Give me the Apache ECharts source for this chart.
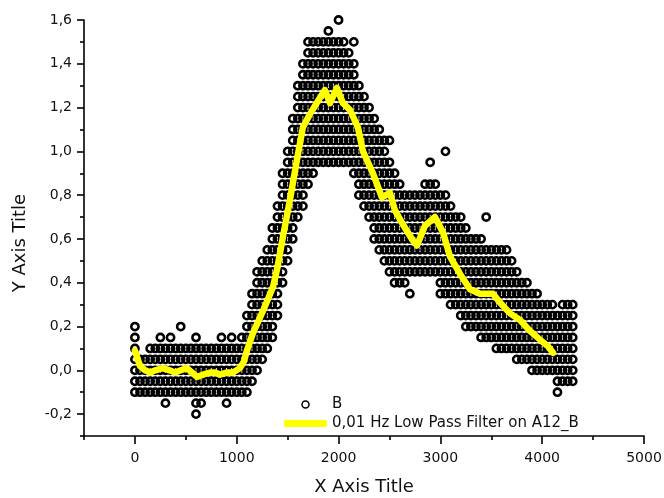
<!DOCTYPE html>
<html><head><meta charset="utf-8">
<script src="https://cdn.jsdelivr.net/npm/echarts@6/dist/echarts.min.js"></script>
<style>html,body{margin:0;padding:0;background:#fff}#c{width:664px;height:498px}</style>
</head><body><div id="c"></div><script>
// Axis tick values
const xMajorTicks = [0, 1000, 2000, 3000, 4000, 5000];
const xMinorTicks = [-500, 500, 1500, 2500, 3500, 4500];
const yMajorTicks = [-0.2, 0, 0.2, 0.4, 0.6, 0.8, 1.0, 1.2, 1.4, 1.6];
const yMinorTicks = [-0.3, -0.1, 0.1, 0.3, 0.5, 0.7, 0.9, 1.1, 1.3, 1.5];

// Series "B": x positions and the y values read at each position
const scatterX = [0,50,100,150,200,250,300,350,400,450,500,550,600,650,700,750,800,850,900,950,
  1000,1050,1100,1150,1200,1250,1300,1350,1400,1450,1500,1550,1600,1650,1700,1750,1800,1850,1900,1950,
  2000,2050,2100,2150,2200,2250,2300,2350,2400,2450,2500,2550,2600,2650,2700,2750,2800,2850,2900,2950,
  3000,3050,3100,3150,3200,3250,3300,3350,3400,3450,3500,3550,3600,3650,3700,3750,3800,3850,3900,3950,
  4000,4050,4100,4150,4200,4250,4300];
const scatterY = [
  [-0.1,-0.05,0,0.05,0.1,0.15,0.2],
  [-0.1,-0.05,0,0.05],
  [-0.1,-0.05,0,0.05],
  [-0.1,-0.05,0,0.05,0.1],
  [-0.1,-0.05,0,0.05,0.1],
  [-0.1,-0.05,0,0.05,0.1,0.15],
  [-0.15,-0.1,-0.05,0,0.05,0.1],
  [-0.1,-0.05,0,0.05,0.1,0.15],
  [-0.1,-0.05,0,0.05,0.1],
  [-0.1,-0.05,0,0.05,0.1,0.2],
  [-0.1,-0.05,0,0.05,0.1],
  [-0.1,-0.05,0,0.05,0.1],
  [-0.2,-0.15,-0.1,-0.05,0,0.05,0.1,0.15],
  [-0.15,-0.1,-0.05,0,0.05,0.1],
  [-0.1,-0.05,0,0.05,0.1],
  [-0.1,-0.05,0,0.05,0.1],
  [-0.1,-0.05,0,0.05,0.1],
  [-0.1,-0.05,0,0.05,0.1,0.15],
  [-0.15,-0.1,-0.05,0,0.05,0.1],
  [-0.1,-0.05,0,0.05,0.1,0.15],
  [-0.1,-0.05,0,0.05,0.1],
  [-0.1,-0.05,0,0.05,0.1,0.15],
  [-0.1,-0.05,0,0.05,0.1,0.15,0.2,0.25],
  [-0.05,0,0.05,0.1,0.15,0.2,0.25,0.3,0.35],
  [0,0.05,0.1,0.15,0.2,0.25,0.3,0.35,0.4,0.45],
  [0.05,0.1,0.15,0.2,0.25,0.3,0.35,0.4,0.45,0.5],
  [0.1,0.15,0.2,0.25,0.3,0.35,0.4,0.45,0.5,0.55],
  [0.15,0.2,0.25,0.3,0.35,0.4,0.45,0.5,0.55,0.6,0.65],
  [0.25,0.3,0.35,0.4,0.45,0.5,0.55,0.6,0.65,0.7,0.75],
  [0.4,0.45,0.5,0.55,0.6,0.65,0.7,0.75,0.8,0.85,0.9],
  [0.5,0.55,0.6,0.65,0.7,0.75,0.8,0.85,0.9,0.95,1.0],
  [0.6,0.65,0.7,0.75,0.8,0.85,0.9,0.95,1.0,1.05,1.1,1.15],
  [0.7,0.75,0.8,0.85,0.9,0.95,1.0,1.05,1.1,1.15,1.2,1.25,1.3],
  [0.75,0.8,0.85,0.9,0.95,1.0,1.05,1.1,1.15,1.2,1.25,1.3,1.35,1.4],
  [0.85,0.9,0.95,1.0,1.05,1.1,1.15,1.2,1.25,1.3,1.35,1.4,1.45,1.5],
  [0.9,0.95,1.0,1.05,1.1,1.15,1.2,1.25,1.3,1.35,1.4,1.45,1.5],
  [0.95,1.0,1.05,1.1,1.15,1.2,1.25,1.3,1.35,1.4,1.45,1.5],
  [0.95,1.0,1.05,1.1,1.15,1.2,1.25,1.3,1.35,1.4,1.45,1.5],
  [0.95,1.0,1.05,1.1,1.15,1.2,1.25,1.3,1.35,1.4,1.45,1.5,1.55],
  [0.95,1.0,1.05,1.1,1.15,1.2,1.25,1.3,1.35,1.4,1.45,1.5],
  [0.95,1.0,1.05,1.1,1.15,1.2,1.25,1.3,1.35,1.4,1.45,1.5,1.6],
  [0.95,1.0,1.05,1.1,1.15,1.2,1.25,1.3,1.35,1.4,1.45,1.5],
  [0.95,1.0,1.05,1.1,1.15,1.2,1.25,1.3,1.35,1.4,1.45],
  [0.9,0.95,1.0,1.05,1.1,1.15,1.2,1.25,1.3,1.35,1.4,1.5],
  [0.8,0.85,0.9,0.95,1.0,1.05,1.1,1.15,1.2,1.25,1.3],
  [0.75,0.8,0.85,0.9,0.95,1.0,1.05,1.1,1.15,1.2,1.25],
  [0.7,0.75,0.8,0.85,0.9,0.95,1.0,1.05,1.1,1.15,1.2],
  [0.6,0.65,0.7,0.75,0.8,0.85,0.9,0.95,1.0,1.05,1.1,1.15],
  [0.55,0.6,0.65,0.7,0.75,0.8,0.85,0.9,0.95,1.0,1.05,1.1],
  [0.5,0.55,0.6,0.65,0.7,0.75,0.8,0.85,0.9,0.95,1.0,1.05],
  [0.45,0.5,0.55,0.6,0.65,0.7,0.75,0.8,0.85,0.9,0.95,1.05],
  [0.4,0.45,0.5,0.55,0.6,0.65,0.7,0.75,0.8,0.85,0.9],
  [0.4,0.45,0.5,0.55,0.6,0.65,0.7,0.75,0.8,0.85],
  [0.4,0.45,0.5,0.55,0.6,0.65,0.7,0.75,0.8],
  [0.35,0.45,0.5,0.55,0.6,0.65,0.7,0.75,0.8],
  [0.45,0.5,0.55,0.6,0.65,0.7,0.75,0.8],
  [0.45,0.5,0.55,0.6,0.65,0.7,0.75,0.8],
  [0.45,0.5,0.55,0.6,0.65,0.7,0.75,0.8,0.85],
  [0.45,0.5,0.55,0.6,0.65,0.7,0.75,0.8,0.85,0.95],
  [0.45,0.5,0.55,0.6,0.65,0.7,0.75,0.8,0.85],
  [0.35,0.4,0.45,0.5,0.55,0.6,0.65,0.7,0.75,0.8],
  [0.35,0.4,0.45,0.5,0.55,0.6,0.65,0.7,0.75,0.8,1.0],
  [0.3,0.35,0.4,0.45,0.5,0.55,0.6,0.65,0.7,0.75],
  [0.3,0.35,0.4,0.45,0.5,0.55,0.6,0.65,0.7],
  [0.25,0.3,0.35,0.4,0.45,0.5,0.55,0.6,0.65,0.7],
  [0.2,0.25,0.3,0.35,0.4,0.45,0.5,0.55,0.6,0.65],
  [0.2,0.25,0.3,0.35,0.4,0.45,0.5,0.55,0.6],
  [0.2,0.25,0.3,0.35,0.4,0.45,0.5,0.55,0.6],
  [0.15,0.2,0.25,0.3,0.35,0.4,0.45,0.5,0.55,0.6],
  [0.15,0.2,0.25,0.3,0.35,0.4,0.45,0.5,0.55,0.7],
  [0.15,0.2,0.25,0.3,0.35,0.4,0.45,0.5,0.55],
  [0.1,0.15,0.2,0.25,0.3,0.35,0.4,0.45,0.5,0.55],
  [0.1,0.15,0.2,0.25,0.3,0.35,0.4,0.45,0.5,0.55],
  [0.1,0.15,0.2,0.25,0.3,0.35,0.4,0.45,0.5,0.55],
  [0.1,0.15,0.2,0.25,0.3,0.35,0.4,0.45,0.5],
  [0.05,0.1,0.15,0.2,0.25,0.3,0.35,0.4,0.45],
  [0.05,0.1,0.15,0.2,0.25,0.3,0.35,0.4],
  [0.05,0.1,0.15,0.2,0.25,0.3,0.35,0.4],
  [0,0.05,0.1,0.15,0.2,0.25,0.3,0.35],
  [0,0.05,0.1,0.15,0.2,0.25,0.3,0.35],
  [0,0.05,0.1,0.15,0.2,0.25,0.3],
  [0,0.05,0.1,0.15,0.2,0.25,0.3],
  [0,0.05,0.1,0.15,0.2,0.25,0.3],
  [-0.1,-0.05,0,0.05,0.1,0.15,0.2,0.25],
  [-0.05,0,0.05,0.1,0.15,0.2,0.25,0.3],
  [-0.05,0,0.05,0.1,0.15,0.2,0.25,0.3],
  [-0.05,0,0.05,0.1,0.15,0.2,0.25,0.3]
];

// Series "0,01 Hz Low Pass Filter on A12_B"
const filterX = [0,50,100,150,200,275,340,393,450,511,560,609,670,737,790,835,900,963,1031,1070,
  1100,1159,1257,1356,1400,1454,1523,1591,1650,1719,1798,1866,1916,1984,2043,2112,2190,2240,2338,2426,
  2505,2554,2640,2720,2770,2849,2947,3026,3094,3193,3291,3389,3517,3585,3684,3782,3880,3978,4057,4106];
const filterY = [0.09,0.02,0.0,-0.01,0.0,0.01,0.0,-0.01,0.0,0.01,-0.01,-0.03,-0.02,-0.01,-0.01,-0.02,-0.01,-0.01,0.01,0.04,
  0.09,0.17,0.27,0.38,0.47,0.61,0.78,0.96,1.11,1.17,1.23,1.28,1.22,1.29,1.22,1.19,1.11,1.00,0.90,0.79,
  0.81,0.73,0.66,0.60,0.57,0.66,0.70,0.63,0.52,0.44,0.37,0.35,0.35,0.31,0.26,0.23,0.18,0.14,0.11,0.08];

const seriesNames = ['B', '0,01 Hz Low Pass Filter on A12_B'];

const scatterData = [];
scatterX.forEach((x, i) => scatterY[i].forEach(y => scatterData.push([x, y])));
const filterData = filterX.map((x, i) => [x, filterY[i]]);

const FONT = 'DejaVu Sans';
const INK = '#111';
const fmtY = v => Number(v).toFixed(1).replace('.', ',');
const fmtX = v => String(Math.round(v));

const chart = echarts.init(document.getElementById('c'), null, {renderer: 'canvas'});
chart.setOption({
  animation: false,
  backgroundColor: '#fff',
  grid: {left: 84, right: 20, top: 20, bottom: 62, containLabel: false, outerBoundsMode: 'none'},
  xAxis: [
    {type: 'value', min: -500, max: 5000, position: 'bottom',
     axisLine: {show: true, onZero: false, lineStyle: {color: '#000', width: 1.6}},
     axisTick: {show: true, inside: false, length: 8, customValues: xMajorTicks, lineStyle: {color: '#000', width: 1.6}},
     axisLabel: {show: true, customValues: xMajorTicks, formatter: fmtX, margin: 15, fontFamily: FONT, fontSize: 14, color: INK},
     splitLine: {show: false}},
    {type: 'value', min: -500, max: 5000, position: 'bottom',
     axisLine: {show: false, onZero: false},
     axisTick: {show: true, inside: false, length: 4, customValues: xMinorTicks, lineStyle: {color: '#000', width: 1.6}},
     axisLabel: {show: false}, splitLine: {show: false}}
  ],
  yAxis: [
    {type: 'value', min: -0.3, max: 1.6, position: 'left',
     axisLine: {show: true, onZero: false, lineStyle: {color: '#000', width: 1.6}},
     axisTick: {show: true, inside: false, length: 7, customValues: yMajorTicks, lineStyle: {color: '#000', width: 1.6}},
     axisLabel: {show: true, customValues: yMajorTicks, formatter: fmtY, margin: 12, fontFamily: FONT, fontSize: 14, color: INK},
     splitLine: {show: false}},
    {type: 'value', min: -0.3, max: 1.6, position: 'left',
     axisLine: {show: false, onZero: false},
     axisTick: {show: true, inside: false, length: 4, customValues: yMinorTicks, lineStyle: {color: '#000', width: 1.6}},
     axisLabel: {show: false}, splitLine: {show: false}}
  ],
  legend: {
    orient: 'vertical', left: 284, top: 397, padding: 0,
    itemWidth: 43, itemHeight: 7, itemGap: 4, selectedMode: false,
    textStyle: {fontFamily: FONT, fontSize: 15, lineHeight: 15, color: INK},
    data: [
      {name: seriesNames[0], icon: 'circle', itemStyle: {color: '#fff', borderColor: '#000', borderWidth: 1.5}},
      {name: seriesNames[1], icon: 'roundRect', itemStyle: {color: '#ffff00', borderWidth: 0}}
    ]
  },
  graphic: [
    {type: 'text', x: 20, y: 243, rotation: Math.PI / 2,
     style: {text: 'Y Axis Title', fontFamily: FONT, fontSize: 18, fill: INK, align: 'center', verticalAlign: 'middle'}},
    {type: 'text', x: 364, y: 487,
     style: {text: 'X Axis Title', fontFamily: FONT, fontSize: 18, fill: INK, align: 'center', verticalAlign: 'middle'}}
  ],
  series: [
    {type: 'scatter', name: seriesNames[0], xAxisIndex: 0, yAxisIndex: 0, data: scatterData,
     symbol: 'circle', symbolSize: 7.2, z: 2, silent: true,
     itemStyle: {color: 'rgba(255,255,255,0)', borderColor: '#000', borderWidth: 2.6, opacity: 1}},
    {type: 'line', name: seriesNames[1], xAxisIndex: 0, yAxisIndex: 0, data: filterData,
     symbol: 'none', showSymbol: false, smooth: false, z: 3, silent: true,
     itemStyle: {color: '#ffff00'},
     lineStyle: {color: '#ffff00', width: 6.5, cap: 'round', join: 'round'}}
  ]
});
</script></body></html>
